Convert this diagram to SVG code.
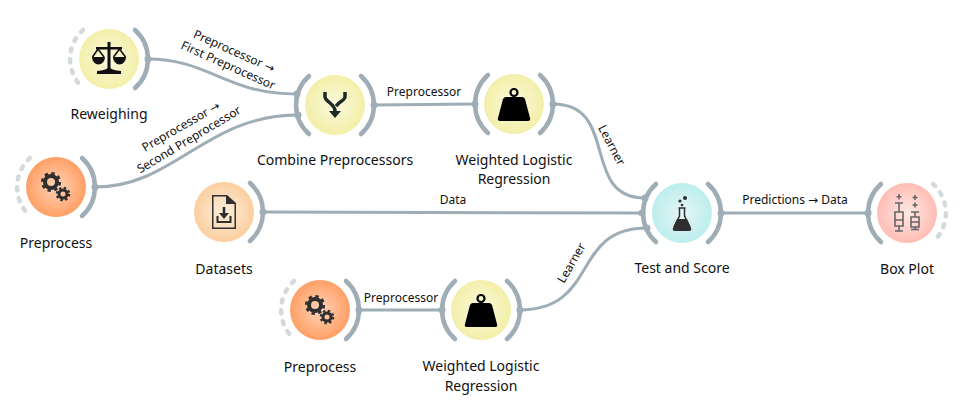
<svg xmlns="http://www.w3.org/2000/svg" width="968" height="412" viewBox="0 0 968 412">
<style>
text{font-family:"Noto Sans","Open Sans","DejaVu Sans",sans-serif;fill:#111}
.t{font-size:14px;text-anchor:middle}
.l{font-size:12px;text-anchor:middle}
.a{fill:none;stroke:#9eadb6;stroke-width:4.5;stroke-linecap:round}
.d{fill:none;stroke:#d3dade;stroke-width:4.5;stroke-linecap:round;stroke-dasharray:3 8}
.p{fill:#9eadb6}
.c{fill:none;stroke:#9eadb6;stroke-width:3}
.i{fill:#2f2f2f}
</style>
<defs>
<radialGradient id="y"><stop offset="0" stop-color="#fbf9e0"/><stop offset="1" stop-color="#f3efa8"/></radialGradient>
<radialGradient id="o"><stop offset="0" stop-color="#ffd5b8"/><stop offset="1" stop-color="#ff9f66"/></radialGradient>
<radialGradient id="f"><stop offset="0" stop-color="#fdeedd"/><stop offset="1" stop-color="#fccf9f"/></radialGradient>
<radialGradient id="b"><stop offset="0" stop-color="#e6f5f5"/><stop offset="1" stop-color="#bdeeee"/></radialGradient>
<radialGradient id="r"><stop offset="0" stop-color="#ffe8e4"/><stop offset="1" stop-color="#ffbdb5"/></radialGradient>
<path id="ra" class="a" d="M26 -29A39 39 0 0 1 26 29"/>
<path id="la" class="a" d="M-26 -29A39 39 0 0 0 -26 29"/>
<path id="rd" class="d" d="M26 -29A39 39 0 0 1 26 29"/>
<path id="ld" class="d" d="M-26 -29A39 39 0 0 0 -26 29"/>
<g id="gears" fill="none" stroke="#2f2f2f">
<circle cx="-5" cy="-5" r="6" stroke-width="4"/><circle cx="-5" cy="-5" r="8.800" stroke-width="2.600" stroke-dasharray="3.450 3.460"/>
<circle cx="7" cy="7" r="4" stroke-width="3"/><circle cx="7" cy="7" r="6.200" stroke-width="2.200" stroke-dasharray="2.430 2.440"/>
</g>
<g id="weight">
<path fill="#000" d="M-8 -7H8q2 0 3 2l5 19q1 3-2 3H-14q-3 0-2-3l5-19q1-2 3-2z"/>
<circle cy="-11.500" r="3.500" fill="none" stroke="#000" stroke-width="2.200"/>
</g>
</defs>
<g id="connectors">
<path class="c" d="M147 59C210 59 225 94 297 94"/>
<path class="c" d="M95 187C175 187 205 115 298 115"/>
<path class="c" d="M263 212L642 213"/>
<path class="c" d="M374 105L475 104"/>
<path class="c" d="M553 104C620 104 580 198 645 198"/>
<path class="c" d="M519 310C600 310 570 228 647 228"/>
<path class="c" d="M359 310L442 310"/>
<path class="c" d="M721 213L868 213"/>
<g>
<text class="l" transform="translate(232.500 55) rotate(24)">Preprocessor →</text>
<text class="l" transform="translate(226.500 69) rotate(24)">First Preprocessor</text>
<text class="l" transform="translate(183 130) rotate(-30)">Preprocessor →</text>
<text class="l" transform="translate(191 143) rotate(-31)">Second Preprocessor</text>
<text class="l" x="424" y="96">Preprocessor</text>
<text class="l" transform="translate(608 147) rotate(62)">Learner</text>
<text class="l" x="453" y="204">Data</text>
<text class="l" x="795" y="204">Predictions → Data</text>
<text class="l" x="401" y="302">Preprocessor</text>
<text class="l" transform="translate(575 265) rotate(-60)">Learner</text>
</g>
</g>
<g id="reweighing" transform="translate(109 59)">
<use href="#ld"/><circle r="30" fill="url(#y)"/><use href="#ra"/><circle class="p" cx="39" r="3.500"/>
<path fill="#111" d="M-1.500 -17h3v5h11.500v2.500h-11.500v18.500q1 2 10.500 3v3h-24v-3q9.500-1 10.500-3v-18.500h-11.500v-2.500h11.500z"/>
<path fill="#111" d="M-17 -2H-4a6.500 7.500 0 0 1-13 0zM4 -2H17a6.500 7.500 0 0 1-13 0z"/>
<path fill="none" stroke="#111" stroke-width="1.600" d="M-16.500 -2L-11 -10L-5 -2M4.500 -2L10.500 -10L16.500 -2"/>
<text class="t" y="60">Reweighing</text>
</g>
<g id="preprocess-1" transform="translate(56 187)">
<use href="#ld"/><circle r="30" fill="url(#o)"/><use href="#ra"/><circle class="p" cx="39" r="3.500"/>
<use href="#gears"/>
<text class="t" y="61">Preprocess</text>
</g>
<g id="datasets" transform="translate(224 212)">
<circle r="30" fill="url(#f)"/><use href="#ra"/><circle class="p" cx="39" r="3.500"/>
<path class="i" fill-rule="evenodd" d="M-12 -17h15l9 8v26h-24zM-10.500 -15.500v31h21v-23.500h-8.500v-7.500z"/>
<path class="i" d="M-1.300 -5h2.600v6h3.700l-5 6-5-6h3.700zM-7.500 4h2v5h11v-5h2v7h-15z"/>
<text class="t" y="62">Datasets</text>
</g>
<g id="combine-preprocessors" transform="translate(335 105)">
<circle r="30" fill="url(#y)"/><use href="#ra"/><use href="#la"/>
<circle class="p" cx="39" r="3.500"/><circle class="p" cx="-38" cy="-11" r="3.500"/><circle class="p" cx="-37" cy="10" r="3.500"/>
<path fill="none" stroke="#1c2a26" stroke-width="3.500" d="M-10 -13V-8Q-10 -6 -5 -2Q0 2 0 6V9M10 -13V-8Q10 -6 4 -2L1 1"/>
<path fill="#1c2a26" d="M-6 6H6L0 13z"/>
<text class="t" y="60">Combine Preprocessors</text>
</g>
<g id="weighted-logistic-regression-1" transform="translate(514 104)">
<circle r="30" fill="url(#y)"/><use href="#ra"/><use href="#la"/>
<circle class="p" cx="39" r="3.500"/><circle class="p" cx="-39" r="3.500"/>
<use href="#weight"/>
<text class="t" y="61">Weighted Logistic</text><text class="t" y="80">Regression</text>
</g>
<g id="test-and-score" transform="translate(682 213)">
<circle r="30" fill="url(#b)"/><use href="#ra"/><use href="#la"/>
<circle class="p" cx="39" r="3.500"/><circle class="p" cx="-40" r="3.500"/><circle class="p" cx="-37" cy="-15" r="3.500"/><circle class="p" cx="-35" cy="15" r="3.500"/>
<path fill="none" stroke="#2f2f2f" stroke-width="1.500" d="M-3.500 -5H3.500M-2.500 -5V3L-8 14M2.500 -5V3L8 14"/>
<path class="i" d="M-5 6H5L9 15q1 3-2 3H-7q-3 0-2-3z"/>
<circle class="i" cx="3" cy="-15" r="2"/><circle class="i" cx="-2" cy="-12" r="1.600"/><circle class="i" cx="0" cy="-8" r="1.300"/>
<text class="t" y="60">Test and Score</text>
</g>
<g id="box-plot" transform="translate(907 213)">
<use href="#rd"/><circle r="30" fill="url(#r)"/><use href="#la"/><circle class="p" cx="-39" r="3.500"/>
<g fill="none" stroke="#666" stroke-width="1.600"><path d="M-8 -19v5.500M-10.500 -16.200h5M-12 -10h8M-8 -10v9M-12 -1h8v14h-8zM-12 7h8M-8 13v5M-12 18h8"/><path d="M8 -18v5M5.500 -15.500h5M8 -10.500v5M5.500 -8h5M4 -1h8M8 -1v5M4 4h8v10h-8zM4 9h8M8 14v2M4 16.500h8"/></g>
<text class="t" y="61">Box Plot</text>
</g>
<g id="preprocess-2" transform="translate(320 310)">
<use href="#ld"/><circle r="30" fill="url(#o)"/><use href="#ra"/><circle class="p" cx="39" r="3.500"/>
<use href="#gears"/>
<text class="t" y="62">Preprocess</text>
</g>
<g id="weighted-logistic-regression-2" transform="translate(481 310)">
<circle r="30" fill="url(#y)"/><use href="#ra"/><use href="#la"/>
<circle class="p" cx="39" r="3.500"/><circle class="p" cx="-39" r="3.500"/>
<use href="#weight"/>
<text class="t" y="61">Weighted Logistic</text><text class="t" y="81">Regression</text>
</g>
</svg>
